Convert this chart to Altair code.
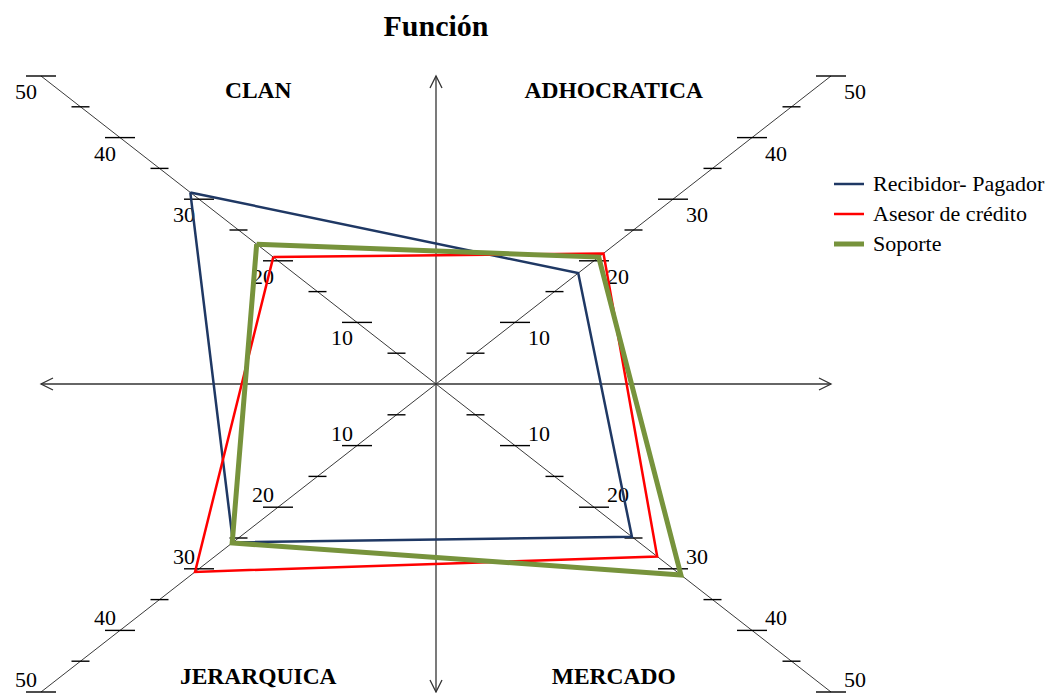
import altair as alt
import pandas as pd

# Cuadrantes del modelo y dirección de su eje en el plano
categorias = ["CLAN", "ADHOCRATICA", "MERCADO", "JERARQUICA"]
signo_x = [-1, 1, 1, -1]
signo_y = [1, 1, -1, -1]

# Puntaje de cada función en cada cuadrante
series = ["Recibidor- Pagador", "Asesor de crédito", "Soporte"]
recibidor_pagador = [31.1, 18.0, 24.8, 25.7]
asesor_credito = [20.6, 21.2, 28.0, 30.5]
soporte = [22.7, 20.6, 31.0, 25.8]
colores = ["#1F3864", "#FF0000", "#77933C"]

# Marcas de escala sobre los ejes diagonales
marcas = [5, 10, 15, 20, 25, 30, 35, 40, 45, 50]
etiquetas = [10, 20, 30, 40, 50]
MAXIMO = 50

FUENTE = "'Liberation Serif', 'Times New Roman', 'DejaVu Serif', serif"

escala_x = alt.Scale(domain=[-MAXIMO, MAXIMO], nice=False, zero=False)
escala_y = alt.Scale(domain=[-MAXIMO, MAXIMO], nice=False, zero=False)


def X(campo):
    return alt.X(campo, type="quantitative", scale=escala_x, axis=None)


def Y(campo):
    return alt.Y(campo, type="quantitative", scale=escala_y, axis=None)


# Ejes diagonales desde el centro hasta el valor máximo
ejes = pd.DataFrame({
    "categoria": categorias,
    "x": [0] * 4, "y": [0] * 4,
    "x2": [MAXIMO * s for s in signo_x],
    "y2": [MAXIMO * s for s in signo_y],
})
capa_ejes = alt.Chart(ejes).mark_rule(color="#3A3A3A", strokeWidth=1).encode(
    x=X("x"), y=Y("y"), x2="x2", y2="y2"
)

# Cruz central con flechas abiertas en sus extremos
cruz = pd.DataFrame({
    "x": [-MAXIMO, 0], "y": [0, -MAXIMO],
    "x2": [MAXIMO, 0], "y2": [0, MAXIMO],
})
capa_cruz = alt.Chart(cruz).mark_rule(color="#333333", strokeWidth=1.3).encode(
    x=X("x"), y=Y("y"), x2="x2", y2="y2"
)
flechas = pd.DataFrame({
    "x": [0, MAXIMO, 0, -MAXIMO],
    "y": [MAXIMO, 0, -MAXIMO, 0],
    "angulo": [0, 90, 180, 270],
})
capa_flechas = alt.Chart(flechas).mark_point(
    shape="M-1,2L0,0L1,2", filled=False, color="#333333",
    strokeWidth=1.3, size=144, opacity=1,
).encode(x=X("x"), y=Y("y"), angle=alt.Angle("angulo:Q", scale=None))

# Rayas horizontales de la escala (largas en decenas, cortas en las mitades)
filas = []
for cat, sx, sy in zip(categorias, signo_x, signo_y):
    for m in marcas:
        filas.append({"categoria": cat, "x": m * sx, "y": m * sy,
                      "mayor": m % 10 == 0})
rayas = pd.DataFrame(filas)
raya_base = alt.Chart(rayas).mark_point(
    shape="M-1,0L1,0", filled=False, color="black", strokeWidth=1.4, opacity=1
)
capa_rayas_mayores = raya_base.encode(
    x=X("x"), y=Y("y"), size=alt.value(900)
).transform_filter("datum.mayor")
capa_rayas_menores = raya_base.encode(
    x=X("x"), y=Y("y"), size=alt.value(324)
).transform_filter("!datum.mayor")

# Números de la escala sobre cada eje diagonal
capas_numeros = []
for cat, sx, sy in zip(categorias, signo_x, signo_y):
    numeros = pd.DataFrame({
        "x": [e * sx for e in etiquetas],
        "y": [e * sy for e in etiquetas],
        "texto": [str(e) for e in etiquetas],
    })
    capas_numeros.append(
        alt.Chart(numeros).mark_text(
            font=FUENTE, fontSize=22, color="black",
            align="left" if sx > 0 else "center", baseline="middle",
            dx=13 if sx > 0 else -15, dy=16 if sy > 0 else -12,
        ).encode(x=X("x"), y=Y("y"), text="texto:N")
    )

# Nombres de los cuadrantes
nombres = pd.DataFrame({
    "categoria": categorias,
    "x": [s * MAXIMO * 0.45 for s in signo_x],
    "y": [s * MAXIMO * 0.95 for s in signo_y],
})
capa_nombres = alt.Chart(nombres).mark_text(
    font=FUENTE, fontSize=23.5, fontWeight="bold", color="black",
    align="center", baseline="middle",
).encode(x=X("x"), y=Y("y"), text="categoria:N")

# Polígono cerrado de cada función
filas = []
for serie, valores in zip(series, [recibidor_pagador, asesor_credito, soporte]):
    recorrido = list(zip(categorias, signo_x, signo_y, valores))
    recorrido.append(recorrido[0])
    for orden, (cat, sx, sy, v) in enumerate(recorrido):
        filas.append({"serie": serie, "categoria": cat, "valor": v,
                      "x": v * sx, "y": v * sy, "orden": orden})
poligonos = pd.DataFrame(filas)

capa_series = alt.Chart(poligonos).mark_line(strokeJoin="miter").encode(
    x=X("x"), y=Y("y"),
    order=alt.Order("orden:Q"),
    color=alt.Color(
        "serie:N",
        scale=alt.Scale(domain=series, range=colores),
        legend=alt.Legend(
            orient="none", legendX=797, legendY=97, title=None,
            symbolType="stroke", symbolSize=900,
            symbolStrokeWidth=alt.ExprRef("datum.value === 'Soporte' ? 5 : 2.5"),
            labelFont=FUENTE, labelFontSize=22, labelColor="black",
            labelOffset=13, labelLimit=400, rowPadding=8, padding=0,
        ),
    ),
    strokeWidth=alt.condition(
        alt.datum.serie == "Soporte", alt.value(5), alt.value(2.5)
    ),
)

chart = alt.layer(
    capa_ejes, capa_cruz, capa_flechas,
    capa_rayas_mayores, capa_rayas_menores,
    *capas_numeros, capa_nombres, capa_series,
).properties(
    width=790,
    height=616,
    title=alt.TitleParams(
        "Función", font=FUENTE, fontSize=30, fontWeight="bold",
        color="black", anchor="middle", frame="group", offset=31,
    ),
    autosize=alt.AutoSizeParams(type="none"),
    padding={"left": 41, "top": 76, "right": 226, "bottom": 1},
    background="white",
).configure_view(stroke=None)

chart.save("out.html", embed_options={"renderer": "svg", "actions": False})
